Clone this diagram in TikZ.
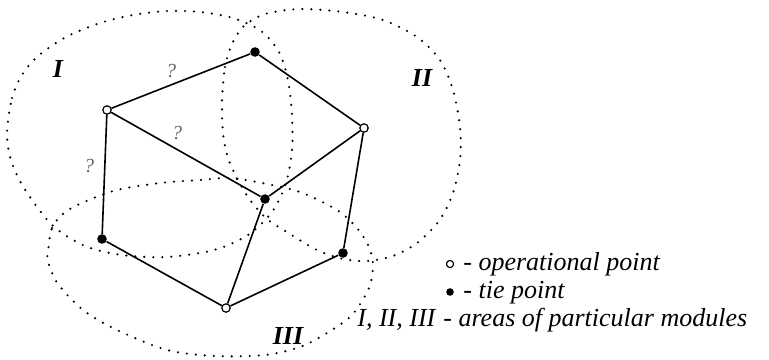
\documentclass[tikz,border=0pt]{standalone}
\usepackage{fontspec}
\setmainfont{Liberation Serif}
\usetikzlibrary{positioning}

\begin{document}
\begin{tikzpicture}[x=0.5pt,y=-0.5pt,
  op/.style={circle,draw,fill=white,line width=0.6pt,inner sep=0pt,minimum size=4.2pt},
  tie/.style={circle,fill=black,inner sep=0pt,minimum size=4.8pt},
  link/.style={line width=0.8pt},
  modarea/.style={line width=1.2pt,line cap=round,dash pattern=on 0pt off 4.5pt},
  qmark/.style={font=\fontsize{10}{11}\selectfont\itshape,text=black!60},
  mlabel/.style={font=\fontsize{13}{15}\selectfont\bfseries\itshape},
  legtext/.style={font=\fontsize{13}{15}\selectfont\itshape,anchor=base west,inner sep=0pt}]
\useasboundingbox (0,0) rectangle (769,359);
% areas of the modules
\draw[modarea] plot[smooth cycle] coordinates {(7,133) (12,98) (22,75) (38,56) (66,37) (100,23)
  (133,15) (167,11) (200,12) (233,18) (261,31) (279,52) (288,80) (292,115) (292,150) (286,183)
  (272,212) (248,235) (214,250) (167,257) (122,255) (85,246) (52,225) (24,188) (11,160)};
\draw[modarea] plot[smooth cycle] coordinates {(222,100) (225,67) (232,44) (244,26) (265,14)
  (300,9) (343,12) (383,20) (417,37) (440,60) (453,90) (460,127) (460,160) (453,193) (439,221)
  (417,243) (393,256) (367,261) (343,259) (317,250) (290,234) (267,219) (250,200) (238,180)
  (228,158) (223,133)};
\draw[modarea] plot[smooth cycle] coordinates {(48,252) (52,228) (64,213) (84,202) (117,190)
  (160,183) (200,180) (230,178) (262,183) (300,192) (337,210) (357,228) (369,247) (373,265)
  (369,288) (352,315) (327,333) (300,347) (265,355) (215,356) (167,350) (117,330) (83,310)
  (58,284) (48,262)};
% points
\node[tie] (a) at (255,52) {};
\node[op]  (b) at (107,110) {};
\node[op]  (c) at (364,128) {};
\node[tie] (d) at (265,199) {};
\node[tie] (e) at (102,239) {};
\node[op]  (f) at (226,308) {};
\node[tie] (g) at (343,253) {};
\draw[link] (b) -- (a) -- (c) -- (d) -- (b) -- (e) -- (f) -- (g) -- (c);
\draw[link] (f) -- (d);
\node[qmark] (q1) at (171,71) {?};
\node[qmark] (q2) at (177,133) {?};
\node[qmark] (q3) at (89,166) {?};
\node[mlabel] (lI) at (58,69) {I};
\node[mlabel] (lII) at (422,78) {II};
\node[mlabel] (lIII) at (288,336) {III};
% legend
\node[op,minimum size=3.6pt] (kop) at (450,264) {};
\node[legtext] (kopt) at (463,270) {- operational point};
\node[tie,minimum size=3.8pt] (ktie) at (450,292) {};
\node[legtext] (ktiet) at (463,298) {- tie point};
\node[legtext] (kmod) at (357,326) {I, II, III};
\node[legtext] (kmodt) at (443,326) {- areas of particular modules};
\end{tikzpicture}
\end{document}
